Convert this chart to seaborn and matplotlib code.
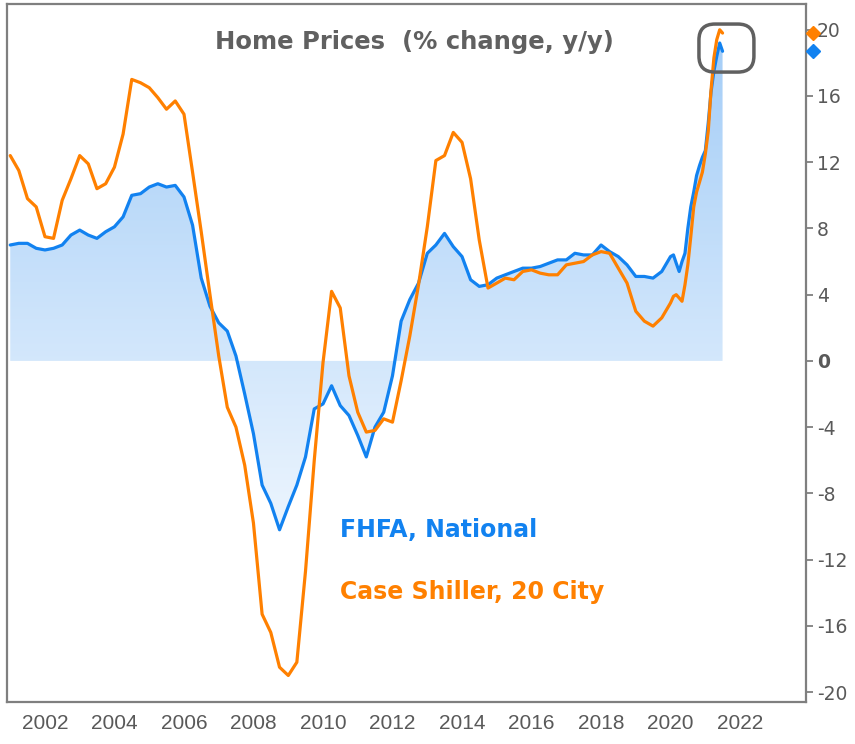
import numpy as np
import pandas as pd
import seaborn as sns
import matplotlib
matplotlib.use('Agg')
from matplotlib import pyplot as plt
import matplotlib.dates as mdates
import matplotlib.transforms as mtransforms
from matplotlib.patches import FancyBboxPatch
from matplotlib.colors import LinearSegmentedColormap

# quarterly readings 2001-2019, monthly from 2020
quarters = pd.date_range('2001-01-01', '2019-10-01', freq='QS')
months = pd.date_range('2020-01-01', '2021-07-01', freq='MS')
dates = quarters.append(months)

fhfa = [7.0, 7.1, 7.1, 6.8,
        6.7, 6.8, 7.0, 7.6,
        7.9, 7.6, 7.4, 7.8,
        8.1, 8.7, 10.0, 10.1,
        10.5, 10.7, 10.5, 10.6,
        9.9, 8.2, 5.0, 3.3,
        2.3, 1.8, 0.3, -2.0,
        -4.4, -7.5, -8.6, -10.2,
        -8.8, -7.5, -5.8, -2.9,
        -2.6, -1.5, -2.7, -3.3,
        -4.5, -5.8, -4.0, -3.1,
        -0.9, 2.4, 3.7, 4.7,
        6.5, 7.0, 7.7, 6.9,
        6.3, 4.9, 4.5, 4.6,
        5.0, 5.2, 5.4, 5.6,
        5.6, 5.7, 5.9, 6.1,
        6.1, 6.5, 6.4, 6.4,
        7.0, 6.6, 6.3, 5.8,
        5.1, 5.1, 5.0, 5.4,
        6.3, 6.4, 5.9, 5.4, 6.0, 6.5, 8.0, 9.3, 10.2, 11.2, 11.8, 12.3,
        12.7, 14.4, 16.2, 17.5, 18.4, 19.2, 18.7]

case_shiller = [12.4, 11.5, 9.8, 9.3,
                7.5, 7.4, 9.7, 11.0,
                12.4, 11.9, 10.4, 10.7,
                11.7, 13.7, 17.0, 16.8,
                16.5, 15.9, 15.2, 15.7,
                14.9, 11.4, 7.8, 4.0,
                0.3, -2.8, -4.0, -6.3,
                -9.8, -15.3, -16.4, -18.5,
                -19.0, -18.2, -12.7, -6.0,
                -0.1, 4.2, 3.2, -0.9,
                -3.1, -4.3, -4.2, -3.5,
                -3.7, -1.2, 1.5, 4.6,
                8.1, 12.1, 12.4, 13.8,
                13.2, 11.0, 7.3, 4.4,
                4.7, 5.0, 4.9, 5.4,
                5.5, 5.3, 5.2, 5.2,
                5.8, 5.9, 6.0, 6.4,
                6.6, 6.5, 5.6, 4.7,
                3.0, 2.4, 2.1, 2.6,
                3.5, 3.9, 4.0, 3.8, 3.6, 4.6, 5.8, 7.5, 9.3, 10.2, 10.8, 11.4,
                12.5, 13.9, 16.3, 18.3, 19.4, 20.0, 19.8]

y_ticks = list(range(-20, 21, 4))

BLUE = '#1282f0'
ORANGE = '#ff8000'
GRAY = '#606060'

df = pd.DataFrame({'date': dates, 'fhfa': fhfa, 'cs': case_shiller})

sns.set_style('white')
fig = plt.figure(figsize=(8.55, 7.44), dpi=100)
ax = fig.add_axes([0.0082, 0.0565, 0.9345, 0.938])

# gradient fill between zero and the FHFA line
fill = ax.fill_between(df['date'], 0, df['fhfa'], color='none', lw=0)
x_num = mdates.date2num(df['date'])
cmap = LinearSegmentedColormap.from_list('fill', ['#eef6fe', '#a2ccf7'])
grad = np.linspace(0, 1, 256).reshape(-1, 1)
img = ax.imshow(grad, cmap=cmap, aspect='auto', origin='lower', zorder=1,
                extent=[x_num[0], x_num[-1], -11, 20.5])
img.set_clip_path(fill.get_paths()[0], ax.transData)

sns.lineplot(data=df, x='date', y='fhfa', color=BLUE, lw=2.3, ax=ax, zorder=3)
sns.lineplot(data=df, x='date', y='cs', color=ORANGE, lw=2.3, ax=ax, zorder=4)

ax.set_xlim(pd.Timestamp('2000-11-28'), pd.Timestamp('2023-11-25'))
ax.set_ylim(-20.6, 21.55)
ax.set_xlabel('')
ax.set_ylabel('')

ax.xaxis.set_major_locator(mdates.YearLocator(2))
ax.xaxis.set_major_formatter(mdates.DateFormatter('%Y'))
ax.yaxis.tick_right()
ax.set_yticks(y_ticks)
ax.set_yticklabels([str(v) for v in y_ticks])
for lab in ax.get_yticklabels():
    lab.set_fontsize(13.5)
    if lab.get_text() == '0':
        lab.set_fontweight('bold')
for lab in ax.get_xticklabels():
    lab.set_family(['Liberation Sans', 'DejaVu Sans'])
    lab.set_fontsize(15)

ax.tick_params(axis='both', direction='out', length=5, width=1.3, colors='#7f7f7f',
               labelcolor='#595959')
ax.tick_params(axis='x', pad=4)
ax.tick_params(axis='y', pad=3)
for sp in ax.spines.values():
    sp.set_color('#7f7f7f')
    sp.set_linewidth(1.6)

ax.text(0.51, 0.945, 'Home Prices  (% change, y/y)', transform=ax.transAxes,
        ha='center', va='center', fontsize=17.5, fontweight='bold', color=GRAY)
ax.text(0.417, 0.246, 'FHFA, National', transform=ax.transAxes, ha='left',
        va='center', fontsize=17, fontweight='bold', color=BLUE)
ax.text(0.417, 0.158, 'Case Shiller, 20 City', transform=ax.transAxes, ha='left',
        va='center', fontsize=17, fontweight='bold', color=ORANGE)

# latest values marked on the right axis
trans = mtransforms.blended_transform_factory(ax.transAxes, ax.transData)
ax.plot([1.009], [case_shiller[-1]], marker='D', ms=7, color=ORANGE,
        transform=trans, clip_on=False, zorder=6)
ax.plot([1.009], [fhfa[-1]], marker='D', ms=7, color=BLUE,
        transform=trans, clip_on=False, zorder=6)

# rounded highlight box around the latest peak
box = FancyBboxPatch((0.866, 0.9026), 0.0688, 0.0688,
                     boxstyle='round,pad=0,rounding_size=0.02',
                     mutation_aspect=799 / 698, transform=ax.transAxes,
                     fc='none', ec=GRAY, lw=2.5, zorder=7)
ax.add_patch(box)

fig.savefig('out.png', dpi=100)
